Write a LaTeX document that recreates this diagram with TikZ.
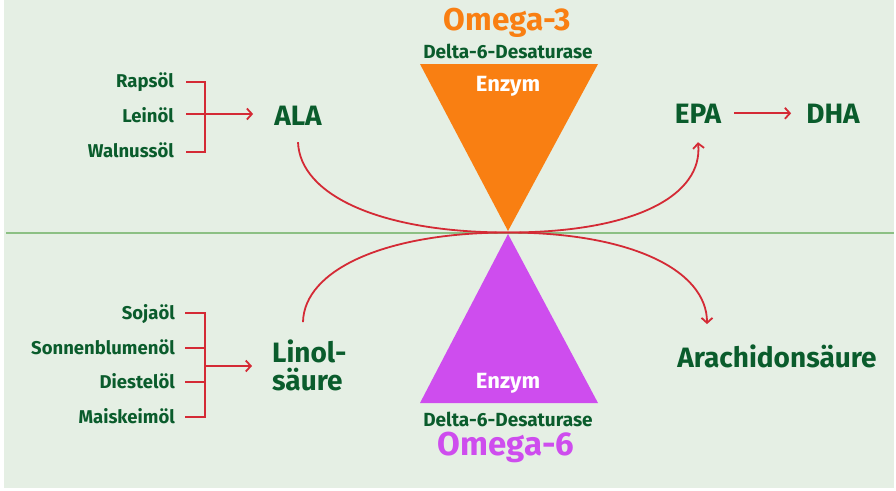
\documentclass[tikz,border=0pt]{standalone}
\usepackage{fontspec}
\setmainfont{Fira Sans}
\usetikzlibrary{arrows.meta}
\definecolor{bgc}{HTML}{E5EFE4}
\definecolor{linec}{HTML}{8CC084}
\definecolor{dgreen}{HTML}{0A5C2C}
\definecolor{orangec}{HTML}{F97F12}
\definecolor{purplec}{HTML}{CE4DEE}
\definecolor{redc}{HTML}{D42A35}
\tikzset{
  small/.style={font=\fontsize{18.5}{18.5}\selectfont\bfseries, text=dgreen, inner sep=0pt},
  big/.style={font=\fontsize{28}{28}\selectfont\bfseries, text=dgreen, inner sep=0pt},
  enz/.style={font=\fontsize{22}{22}\selectfont\bfseries, text=white, inner sep=0pt},
  delta/.style={font=\fontsize{19}{19}\selectfont\bfseries, text=dgreen, inner sep=0pt},
  omega/.style={inner sep=0pt},
  conn/.style={draw=redc, line width=1.8pt},
  tip/.style={-{Straight Barb[length=5pt,width=11pt,line width=1.8pt]}},
}
\begin{document}
\begin{tikzpicture}[x=1pt,y=-1pt]
\useasboundingbox (0,0) rectangle (896,490);
\fill[white] (0,0) rectangle (896,490);
\fill[bgc] (4,0) rectangle (894,488);
\draw[linec, line width=2pt] (6,232.5) -- (894,232.5);
% triangles
\fill[orangec] (420,64) -- (598,64) -- (508,231) -- cycle;
\fill[purplec] (420,403) -- (598,403) -- (508,234) -- cycle;
\node[enz, anchor=base] (enz1) at (508,91) {Enzym};
\node[enz, anchor=base] (enz2) at (508,388) {Enzym};
\node[omega, font=\fontsize{31.5}{31.5}\selectfont\bfseries, text=orangec, anchor=base] (om3) at (507,30) {Omega-3};
\node[delta, anchor=base] (d1) at (508,58) {Delta-6-Desaturase};
\node[delta, anchor=base] (d2) at (508,426) {Delta-6-Desaturase};
\node[omega, font=\fontsize{33}{33}\selectfont\bfseries, text=purplec, anchor=base] (om6) at (506,455) {Omega-6};
% top left
\node[small, anchor=base east] (raps) at (174,87) {Rapsöl};
\node[small, anchor=base east] (lein) at (174,122) {Leinöl};
\node[small, anchor=base east] (waln) at (174,157) {Walnussöl};
\node[big, anchor=base] (ala) at (298,125) {ALA};
\draw[conn] ([xshift=12pt,yshift=5pt]raps.base east) -- ++(19,0) |- ([xshift=12pt,yshift=5pt]waln.base east);
\draw[conn, tip] ([xshift=12pt,yshift=8pt]lein.base east) coordinate (l0) -- ([xshift=-21pt]l0 -| ala.west);
% top right
\node[big, anchor=base] (epa) at (698,123) {EPA};
\node[big, anchor=base] (dha) at (833,123) {DHA};
\draw[conn, tip] ([xshift=13pt]epa.east) -- ([xshift=-15pt]dha.west);
% bottom left
\node[small, anchor=base east] (soja) at (175,319) {Sojaöl};
\node[small, anchor=base east] (sonn) at (175,354) {Sonnenblumenöl};
\node[small, anchor=base east] (dies) at (175,388) {Diestelöl};
\node[small, anchor=base east] (mais) at (175,423) {Maiskeimöl};
\node[big, anchor=base west] (lin1) at (272,362) {Linol-};
\node[big, anchor=base west] (lin2) at (272,390) {säure};
\draw[conn] ([xshift=10pt,yshift=6pt]soja.base east) -- ++(20,0) |- ([xshift=10pt,yshift=6pt]mais.base east);
\draw[conn] ([xshift=10pt,yshift=6pt]sonn.base east) -- ++(20,0);
\draw[conn] ([xshift=10pt,yshift=6pt]dies.base east) -- ++(20,0);
\coordinate (b0) at (205,366);
\draw[conn, tip] (b0) -- ([xshift=-20pt]b0 -| lin1.west);
% bottom right
\node[big, anchor=base] (arach) at (777,367) {Arachidonsäure};
% curves
\coordinate (mid) at (508,232.5);
\draw[conn, tip] ([yshift=-17pt]ala.south) .. controls (300,195) and (380,232.5) .. (mid)
   .. controls (636,232.5) and (703,195) .. ([yshift=-19pt]epa.south);
\draw[conn, tip] ([yshift=17pt]lin1.north west -| 303,0) .. controls (304,270) and (385,232.5) .. (mid)
   .. controls (630,232.5) and (707,270) .. ([yshift=20pt]arach.north west -| 707,0);
\end{tikzpicture}
\end{document}
